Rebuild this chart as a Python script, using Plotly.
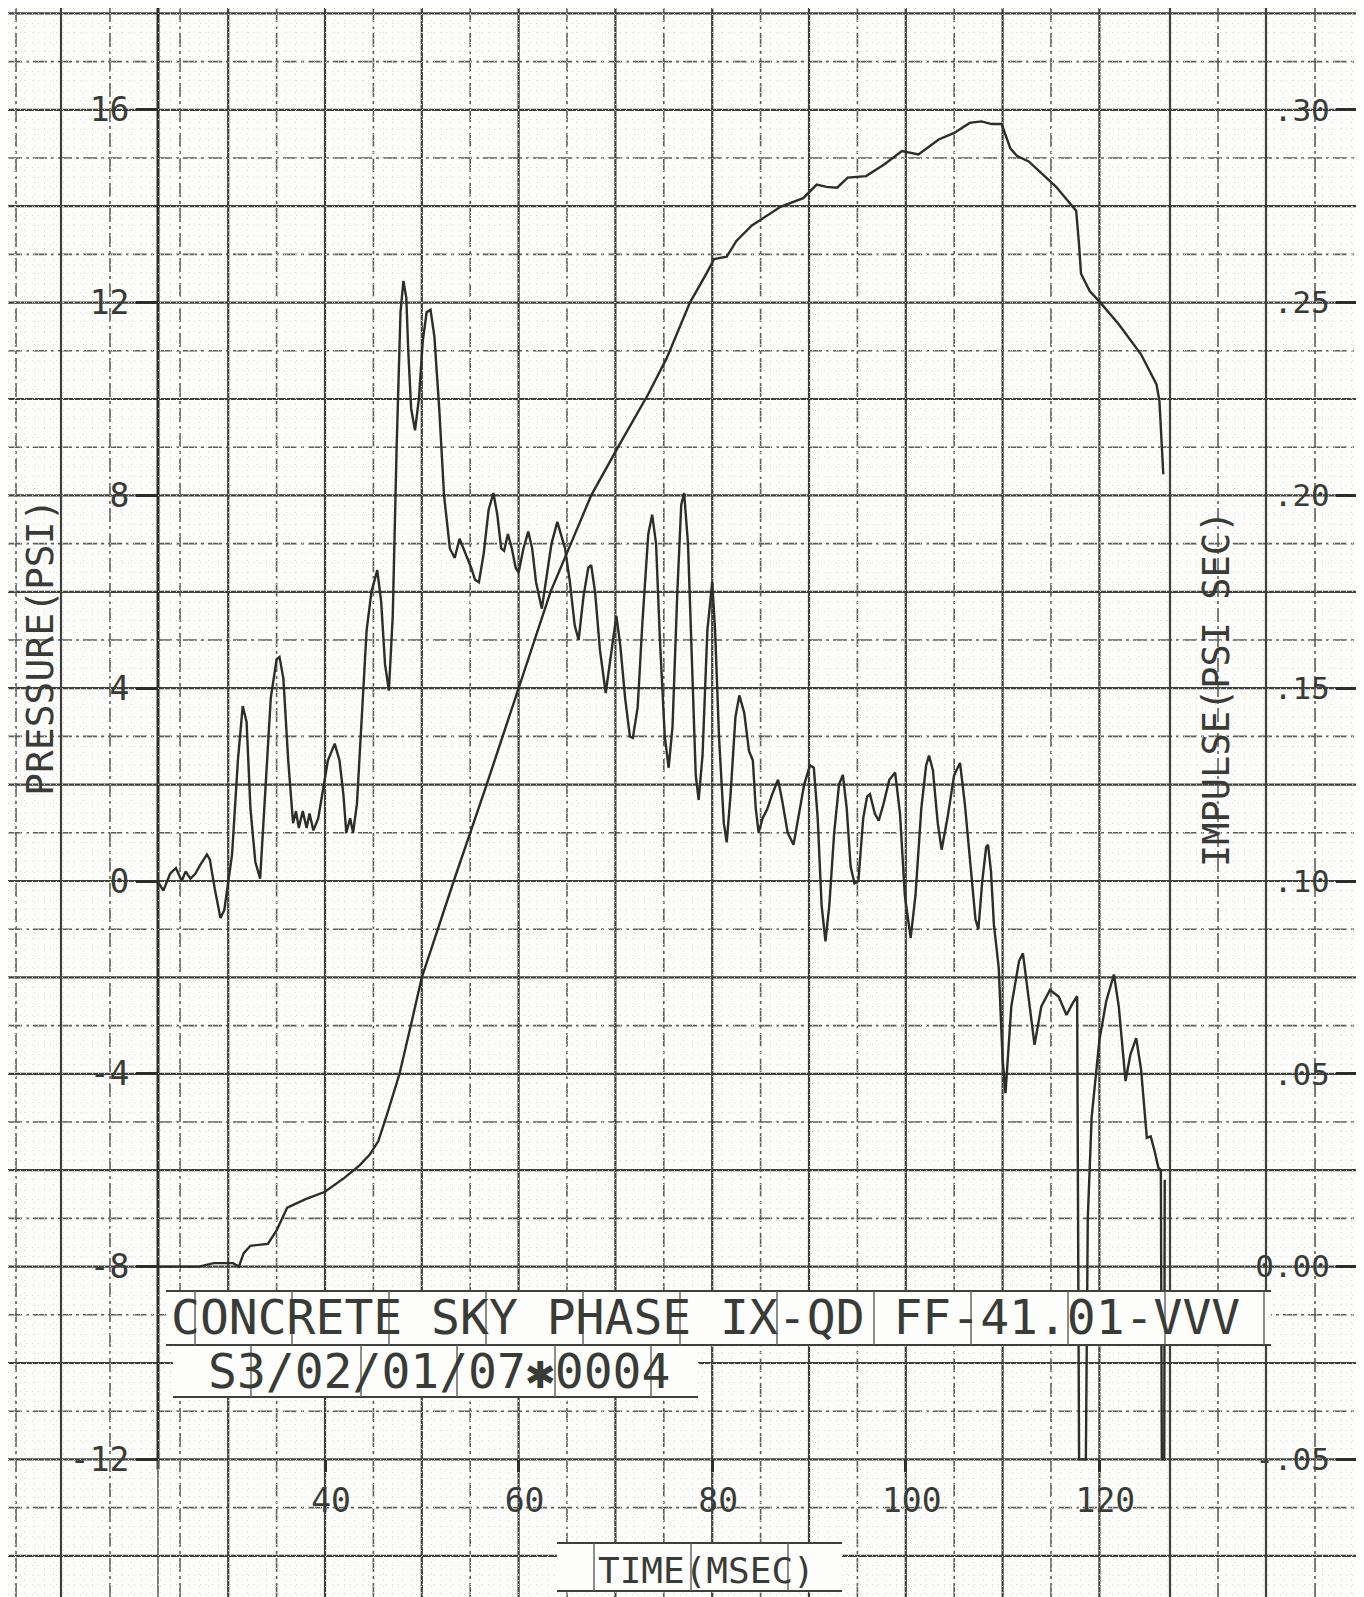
import plotly.graph_objects as go

# ---------------- data ----------------
time_p_ms = [
    22.7, 23.3, 24.0, 24.6, 25.2, 25.6, 26.1, 26.6, 27.1, 27.8,
    28.1, 28.6, 29.2, 29.6, 30.4, 31.0, 31.5, 31.9, 32.3, 32.8,
    33.3, 33.8, 34.4, 35.0, 35.3, 35.7, 36.2, 36.7, 37.0, 37.3,
    37.7, 38.1, 38.4, 38.8, 39.3, 39.8, 40.3, 41.0, 41.5, 41.9,
    42.2, 42.6, 42.9, 43.3, 43.8, 44.3, 44.8, 45.4, 45.8, 46.2,
    46.6, 47.0, 47.4, 47.8, 48.1, 48.4, 48.6, 48.9, 49.3, 49.7,
    50.1, 50.5, 50.9, 51.3, 51.8, 52.3, 52.9, 53.4, 53.9, 54.5,
    55.1, 55.5, 55.9, 56.4, 56.9, 57.4, 57.8, 58.2, 58.5, 58.9,
    59.3, 59.7, 60.0, 60.5, 61.0, 61.4, 61.8, 62.4, 62.9, 63.4,
    64.0, 64.4, 64.8, 65.3, 65.8, 66.2, 66.7, 67.2, 67.5, 67.9,
    68.4, 69.0, 69.6, 70.1, 70.5, 71.0, 71.5, 71.8, 72.3, 72.8,
    73.4, 73.8, 74.2, 74.6, 75.1, 75.5, 75.9, 76.4, 76.8, 77.1,
    77.5, 77.9, 78.3, 78.6, 79.0, 79.5, 80.0, 80.3, 80.7, 81.2,
    81.5, 81.9, 82.4, 82.8, 83.3, 83.8, 84.2, 84.5, 84.8, 85.2,
    85.7, 86.2, 86.8, 87.2, 87.8, 88.4, 88.9, 89.5, 90.1, 90.5,
    90.9, 91.3, 91.7, 92.1, 92.6, 93.1, 93.5, 93.9, 94.3, 94.7,
    95.1, 95.6, 96.0, 96.3, 96.8, 97.2, 97.7, 98.3, 98.9, 99.4,
    99.9, 100.5, 101.0, 101.6, 102.1, 102.4, 102.8, 103.3, 103.7, 104.3,
    105.0, 105.6, 106.1, 106.7, 107.2, 107.5, 107.9, 108.3, 108.5, 108.8,
    109.1, 109.6, 110.0, 110.3, 110.9, 111.7, 112.1, 112.8, 113.3, 114.0,
    114.9, 115.8, 116.6, 117.2, 117.7, 117.9, 118.6, 118.8, 119.2, 120.0,
    120.7, 121.5, 122.0, 122.7, 123.2, 123.8, 124.3, 124.9, 125.3, 125.7,
    126.1, 126.35, 126.45, 126.7, 126.75,
]
pressure_psi = [
    0.00, -0.20, 0.15, 0.27, 0.00, 0.20, 0.05, 0.15, 0.33, 0.55,
    0.45, -0.15, -0.77, -0.60, 0.55, 2.50, 3.63, 3.30, 1.50, 0.40,
    0.05, 1.80, 3.80, 4.60, 4.65, 4.20, 2.50, 1.20, 1.45, 1.10,
    1.45, 1.10, 1.40, 1.05, 1.30, 1.90, 2.50, 2.85, 2.50, 1.80,
    1.00, 1.30, 1.00, 1.60, 3.50, 5.20, 6.00, 6.45, 5.80, 4.50,
    3.95, 5.50, 9.00, 11.80, 12.45, 12.10, 11.00, 9.80, 9.35, 10.00,
    11.20, 11.80, 11.85, 11.30, 9.80, 8.00, 6.90, 6.70, 7.10, 6.80,
    6.50, 6.25, 6.20, 6.80, 7.70, 8.05, 7.60, 6.90, 6.85, 7.20,
    6.90, 6.50, 6.40, 6.90, 7.25, 6.90, 6.20, 5.65, 6.30, 7.00,
    7.45, 7.20, 6.90, 6.20, 5.30, 5.00, 5.90, 6.50, 6.55, 6.00,
    4.80, 3.90, 4.80, 5.50, 4.90, 3.80, 3.00, 2.97, 3.60, 5.40,
    7.20, 7.60, 7.00, 5.00, 3.00, 2.35, 3.20, 6.00, 7.80, 8.05,
    7.00, 4.50, 2.20, 1.68, 2.60, 5.20, 6.20, 5.20, 3.00, 1.20,
    0.80, 1.80, 3.40, 3.85, 3.50, 2.70, 2.50, 1.50, 1.00, 1.30,
    1.50, 1.80, 2.10, 1.70, 1.00, 0.75, 1.30, 2.00, 2.40, 2.35,
    1.30, -0.50, -1.25, -0.50, 1.00, 2.00, 2.20, 1.50, 0.30, -0.05,
    0.00, 1.30, 1.75, 1.80, 1.40, 1.25, 1.60, 2.10, 2.25, 1.40,
    -0.30, -1.18, -0.30, 1.50, 2.40, 2.60, 2.30, 1.20, 0.65, 1.30,
    2.20, 2.45, 1.60, 0.20, -0.80, -1.00, 0.00, 0.70, 0.75, 0.20,
    -0.90, -1.80, -3.70, -4.40, -2.60, -1.66, -1.50, -2.60, -3.40, -2.60,
    -2.26, -2.40, -2.78, -2.55, -2.39, -12.00, -12.00, -7.00, -4.90, -3.30,
    -2.50, -1.94, -2.60, -4.15, -3.60, -3.26, -3.90, -5.33, -5.30, -5.60,
    -5.95, -6.00, -12.00, -12.00, -6.20,
]

time_i_ms = [
    22.7, 27.0, 28.5, 30.5, 31.1, 31.6, 32.3, 33.2, 34.1, 35.0,
    36.1, 38.0, 40.0, 42.0, 43.6, 44.6, 45.5, 46.4, 47.7, 48.9,
    50.0, 51.0, 52.3, 53.3, 56.7, 60.0, 63.3, 65.4, 67.5, 70.4,
    73.4, 75.3, 77.7, 79.4, 80.2, 81.5, 82.5, 84.1, 87.1, 89.4,
    90.8, 91.8, 92.9, 94.0, 95.9, 97.8, 99.6, 101.3, 103.4, 105.0,
    106.6, 107.8, 108.9, 109.9, 110.8, 111.5, 112.7, 115.5, 117.6, 117.9,
    118.1, 119.0, 120.1, 122.0, 124.3, 125.9, 126.2, 126.6,
]
impulse_psi_sec = [
    0.0000, 0.0000, 0.0009, 0.0009, 0.0000, 0.0035, 0.0054, 0.0056, 0.0059, 0.0094,
    0.0153, 0.0175, 0.0194, 0.0230, 0.0263, 0.0290, 0.0325, 0.0394, 0.0500, 0.0629,
    0.0750, 0.0825, 0.0925, 0.1000, 0.1250, 0.1500, 0.1750, 0.1875, 0.2000, 0.2131,
    0.2263, 0.2356, 0.2500, 0.2575, 0.2613, 0.2619, 0.2660, 0.2700, 0.2749, 0.2771,
    0.2806, 0.2800, 0.2798, 0.2824, 0.2828, 0.2859, 0.2893, 0.2884, 0.2923, 0.2940,
    0.2966, 0.2970, 0.2963, 0.2963, 0.2900, 0.2880, 0.2866, 0.2801, 0.2738, 0.2650,
    0.2575, 0.2530, 0.2500, 0.2444, 0.2366, 0.2288, 0.2245, 0.2055,
]

pressure_ticks = [16, 12, 8, 4, 0, -4, -8, -12]
pressure_tick_text = ["16", "12", "8", "4", "0", "-4", "-8", "-12"]
impulse_ticks = [0.30, 0.25, 0.20, 0.15, 0.10, 0.05, 0.00, -0.05]
impulse_tick_text = [".30", ".25", ".20", ".15", ".10", ".05", "0.00", "-.05"]
time_ticks = [40, 60, 80, 100, 120]
time_tick_text = ["40", "60", "80", "100", "120"]

title_line1 = "CONCRETE SKY PHASE IX-QD FF-41.01-VVV"
title_line2 = "S3/02/01/07\u27310004"
x_title = "TIME(MSEC)"
y_title = "PRESSURE(PSI)"
y2_title = "IMPULSE(PSI SEC)"

# ---------------- page geometry / styling ----------------
W, H = 1364, 1597
X40, PX_MS = 317.0, 9.68      # pixel of t=40 ms, pixels per ms
Y0, PX_PSI = 873.0, 48.2      # pixel of 0 psi, pixels per psi
IMP0, IMP_PER_PSI = 0.10, 0.0125

def tx(px):
    return 40 + (px - X40) / PX_MS

def py(pxv):
    return (Y0 - pxv) / PX_PSI

t_lo, t_hi = tx(0), tx(W)
p_lo, p_hi = py(H), py(0)

INK = "#2b2e29"
TXT = "#383b36"
GRID = "#3d403b"
GRID_D = "#5a5d58"
DOTS = "#dadad7"
FONT = "DejaVu Sans Mono, Liberation Mono, monospace"
DASH = "14px,4px,3px,4px"

shapes = []

def vline(px, y0px, y1px, width, dash, color, layer="below"):
    shapes.append(dict(type="line", xref="x", yref="y", x0=tx(px), x1=tx(px),
                       y0=py(y0px), y1=py(y1px), layer=layer,
                       line=dict(color=color, width=width, dash=dash)))

def hline(pyx, x0px, x1px, width, dash, color, layer="below"):
    shapes.append(dict(type="line", xref="x", yref="y", x0=tx(x0px), x1=tx(x1px),
                       y0=py(pyx), y1=py(pyx), layer=layer,
                       line=dict(color=color, width=width, dash=dash)))

# horizontal paper grid (every psi; even solid, odd dash-dot)
for k in range(-15, 19):
    ypx = Y0 - k * PX_PSI
    if k % 2 == 0:
        hline(ypx, 0, W, 2.2, "solid", GRID)
    else:
        hline(ypx, 0, W, 1.6, DASH, GRID_D)

# vertical paper grid
for t in range(30, 121, 5):
    xpx = X40 + (t - 40) * PX_MS
    if t % 10 == 0:
        vline(xpx, 0, H, 2.2, "solid", GRID)
    else:
        vline(xpx, 0, H, 1.6, DASH, GRID_D)
for xpx in [53, 1162, 1258]:
    vline(xpx, 0, H, 2.2, "solid", GRID)
for xpx in [8, 102, 172, 1210, 1307]:
    vline(xpx, 0, H, 1.6, DASH, GRID_D)

# plot axes lines (left & right), from -12 psi up to the top
y_m12 = Y0 + 12 * PX_PSI
vline(150, y_m12 + 10, 0, 3.0, "solid", INK)
vline(150, y_m12, H, 1.6, "solid", GRID_D)
vline(1350, y_m12, 0, 3.0, "solid", INK)

# label boxes (drawn above the traces, like the pasted label strip)
def box(x0px, y0px, x1px, y1px):
    shapes.append(dict(type="rect", xref="x", yref="y", x0=tx(x0px), x1=tx(x1px),
                       y0=py(y0px), y1=py(y1px), layer="above",
                       fillcolor="#fdfdfb", line=dict(width=0)))

box(158, 1283, 1263, 1337)
box(165, 1337, 690, 1389)
box(549, 1535, 834, 1583)
hline(1283, 158, 1263, 2.0, "solid", GRID, layer="above")
hline(1337, 158, 1263, 2.0, "solid", GRID, layer="above")
hline(1389, 165, 690, 2.0, "solid", GRID, layer="above")
hline(1535, 549, 834, 2.0, "solid", GRID, layer="above")
hline(1583, 549, 834, 2.0, "solid", GRID, layer="above")
for xpx in [187, 284, 381, 478, 575, 672, 769, 866, 963, 1060, 1157, 1256]:
    vline(xpx, 1283, 1337, 1.4, "solid", GRID_D, layer="above")
for xpx in [243, 353, 449, 547, 643]:
    vline(xpx, 1337, 1389, 1.4, "solid", GRID_D, layer="above")
for xpx in [586, 683, 780]:
    vline(xpx, 1535, 1583, 1.4, "solid", GRID_D, layer="above")

# ---------------- figure ----------------
fig = go.Figure()
fig.add_trace(go.Scatter(x=time_p_ms, y=pressure_psi, mode="lines",
                         line=dict(color=INK, width=2.4), xaxis="x", yaxis="y",
                         name="Pressure", hoverinfo="x+y"))
fig.add_trace(go.Scatter(x=time_i_ms, y=impulse_psi_sec, mode="lines",
                         line=dict(color=INK, width=2.4), xaxis="x", yaxis="y2",
                         name="Impulse", hoverinfo="x+y"))

x_axis_pos = (-12 - p_lo) / (p_hi - p_lo)

fig.update_layout(
    width=W, height=H, autosize=False,
    margin=dict(l=0, r=0, t=0, b=0, pad=0),
    paper_bgcolor="#fdfdfb", plot_bgcolor="#fdfdfb",
    showlegend=False,
    font=dict(family=FONT, color=TXT),
    shapes=shapes,
    xaxis=dict(
        domain=[0, 1], range=[t_lo, t_hi], anchor="free", position=x_axis_pos,
        tickmode="array", tickvals=time_ticks, ticktext=time_tick_text,
        ticks="outside", ticklen=12, tickwidth=2.5, tickcolor=INK,
        ticklabelshift=6, ticklabelstandoff=0,
        tickfont=dict(family=FONT, size=33, color=TXT),
        showgrid=False, zeroline=False, showline=False,
        minor=dict(dtick=1, tick0=0, showgrid=True, gridcolor=DOTS,
                   griddash="1px,5px", gridwidth=1, ticks=""),
    ),
    yaxis=dict(
        domain=[0, 1], range=[p_lo, p_hi], anchor="free", position=150 / W,
        side="left",
        tickmode="array", tickvals=pressure_ticks, ticktext=pressure_tick_text,
        ticks="outside", ticklen=22, tickwidth=2.5, tickcolor=INK,
        tickfont=dict(family=FONT, size=33, color=TXT),
        showgrid=False, zeroline=False, showline=False,
        minor=dict(dtick=0.2, tick0=0, showgrid=True, gridcolor=DOTS,
                   griddash="1px,5px", gridwidth=1, ticks=""),
    ),
    yaxis2=dict(
        overlaying="y", anchor="free", position=1350 / W, side="left",
        range=[IMP0 + IMP_PER_PSI * p_lo, IMP0 + IMP_PER_PSI * p_hi],
        tickmode="array", tickvals=impulse_ticks, ticktext=impulse_tick_text,
        ticks="outside", ticklen=22, tickwidth=2.5, tickcolor=INK,
        tickfont=dict(family=FONT, size=31, color=TXT),
        showgrid=False, zeroline=False, showline=False,
    ),
)

ann = []
ann.append(dict(x=tx(32), y=py(640), xref="x", yref="y", text=y_title, textangle=-90,
                showarrow=False, xanchor="center", yanchor="middle",
                font=dict(family=FONT, size=38, color=TXT)))
ann.append(dict(x=tx(1208), y=py(681), xref="x", yref="y", text=y2_title, textangle=-90,
                showarrow=False, xanchor="center", yanchor="middle",
                font=dict(family=FONT, size=37, color=TXT)))
ann.append(dict(x=tx(698), y=py(1562), xref="x", yref="y", text=x_title,
                showarrow=False, xanchor="center", yanchor="middle",
                font=dict(family=FONT, size=36, color=TXT)))
ann.append(dict(x=tx(697), y=py(1309), xref="x", yref="y", text=title_line1,
                showarrow=False, xanchor="center", yanchor="middle",
                font=dict(family=FONT, size=48, color=TXT)))
ann.append(dict(x=tx(431), y=py(1363), xref="x", yref="y", text=title_line2,
                showarrow=False, xanchor="center", yanchor="middle",
                font=dict(family=FONT, size=48, color=TXT)))
fig.update_layout(annotations=ann)

fig.write_html("out.html")
